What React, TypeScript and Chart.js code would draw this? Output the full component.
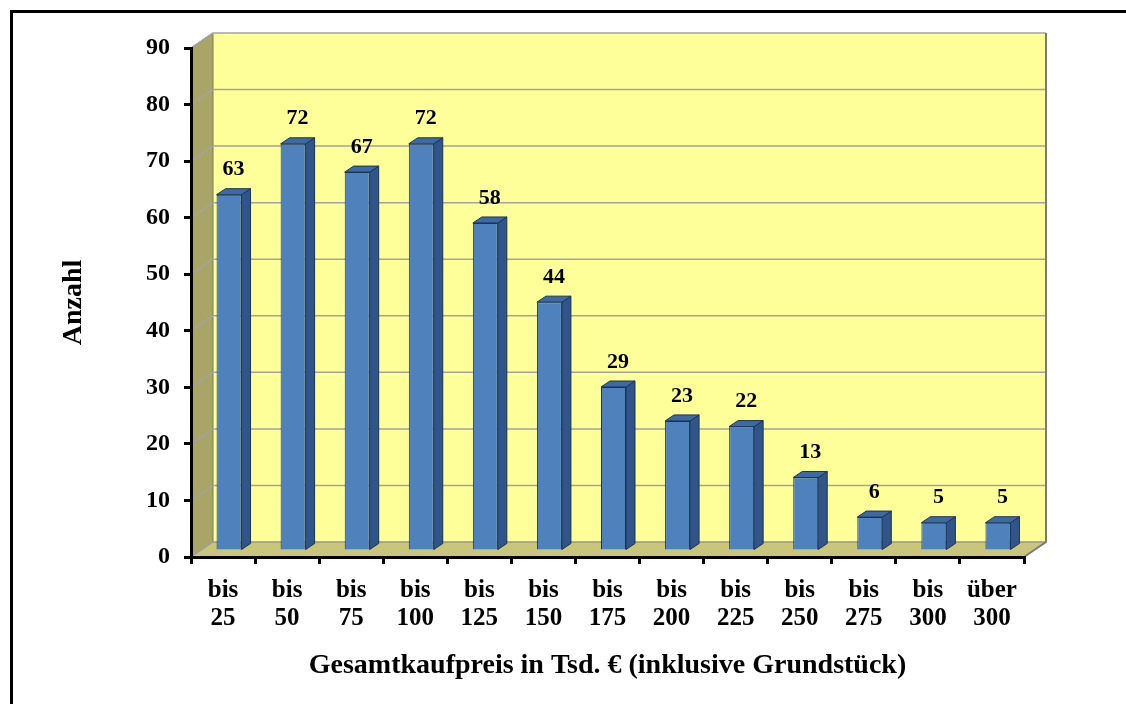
import React, { useEffect, useRef } from "react";
import { Chart, registerables } from "chart.js";

Chart.register(...registerables);

// ---- data ----
const categories: string[][] = [
  ["bis", "25"],
  ["bis", "50"],
  ["bis", "75"],
  ["bis", "100"],
  ["bis", "125"],
  ["bis", "150"],
  ["bis", "175"],
  ["bis", "200"],
  ["bis", "225"],
  ["bis", "250"],
  ["bis", "275"],
  ["bis", "300"],
  ["über", "300"],
];
const values: number[] = [63, 72, 67, 72, 58, 44, 29, 23, 22, 13, 6, 5, 5];
const yMin = 0;
const yMax = 90;
const yStep = 10;
const xTitle = "Gesamtkaufpreis in Tsd. € (inklusive Grundstück)";
const yTitle = "Anzahl";

// ---- styling ----
const FONT = "'Liberation Serif', 'Times New Roman', serif";
const WALL_DX = 22;
const WALL_DY = -15;
const BAR_DX = 6;
const BAR_DY = -6;
const BAR_DEPTH_X = 9;
const BAR_DEPTH_Y = -6;

const poly = (ctx: CanvasRenderingContext2D, pts: number[][], fill: string, stroke?: string, lw = 1) => {
  ctx.beginPath();
  ctx.moveTo(pts[0][0], pts[0][1]);
  for (let i = 1; i < pts.length; i++) ctx.lineTo(pts[i][0], pts[i][1]);
  ctx.closePath();
  ctx.fillStyle = fill;
  ctx.fill();
  if (stroke) {
    ctx.strokeStyle = stroke;
    ctx.lineWidth = lw;
    ctx.stroke();
  }
};

const threeDPlugin = {
  id: "threeD",
  beforeDraw(chart: any) {
    const { ctx, chartArea } = chart;
    const { left, right, top, bottom } = chartArea;
    const ys = chart.scales.y;
    ctx.save();
    // outer frame
    ctx.lineWidth = 3;
    ctx.strokeStyle = "#000";
    ctx.strokeRect(11.5, 11.5, 1400, 1000);

    // back wall
    poly(
      ctx,
      [
        [left + WALL_DX, top + WALL_DY],
        [right + WALL_DX, top + WALL_DY],
        [right + WALL_DX, bottom + WALL_DY],
        [left + WALL_DX, bottom + WALL_DY],
      ],
      "#FFFF99"
    );
    // side wall
    poly(
      ctx,
      [
        [left, top],
        [left + WALL_DX, top + WALL_DY],
        [left + WALL_DX, bottom + WALL_DY],
        [left, bottom],
      ],
      "#A8A567",
      "#7E7C50",
      1
    );
    // floor
    poly(
      ctx,
      [
        [left, bottom],
        [left + WALL_DX, bottom + WALL_DY],
        [right + WALL_DX, bottom + WALL_DY],
        [right, bottom],
      ],
      "#C9C57B",
      "#8E8B55",
      1
    );
    // grid lines
    ctx.strokeStyle = "#A3A3A3";
    ctx.lineWidth = 1.5;
    ys.ticks.forEach((t: any) => {
      const py = ys.getPixelForValue(t.value);
      ctx.beginPath();
      ctx.moveTo(left, py);
      ctx.lineTo(left + WALL_DX, py + WALL_DY);
      ctx.lineTo(right + WALL_DX, py + WALL_DY);
      ctx.stroke();
    });
    // right edge of back wall
    ctx.strokeStyle = "#7A7A7A";
    ctx.lineWidth = 2;
    ctx.beginPath();
    ctx.moveTo(right + WALL_DX, top + WALL_DY);
    ctx.lineTo(right + WALL_DX, bottom + WALL_DY);
    ctx.lineTo(right, bottom);
    ctx.stroke();
    ctx.restore();
  },
  beforeDatasetsDraw(chart: any) {
    chart.ctx.save();
    chart.ctx.translate(BAR_DX, BAR_DY);
  },
  afterDatasetsDraw(chart: any) {
    const { ctx } = chart;
    const meta = chart.getDatasetMeta(0);
    meta.data.forEach((el: any) => {
      const { x, y, base, width } = el.getProps(["x", "y", "base", "width"], true);
      const l = x - width / 2;
      const r = x + width / 2;
      poly(
        ctx,
        [
          [r, y],
          [r + BAR_DEPTH_X, y + BAR_DEPTH_Y],
          [r + BAR_DEPTH_X, base + BAR_DEPTH_Y],
          [r, base],
        ],
        "#30558A",
        "#1C3457",
        1
      );
      poly(
        ctx,
        [
          [l, y],
          [l + BAR_DEPTH_X, y + BAR_DEPTH_Y],
          [r + BAR_DEPTH_X, y + BAR_DEPTH_Y],
          [r, y],
        ],
        "#3D6AA4",
        "#1C3457",
        1
      );
    });
    ctx.restore();

    // value labels
    ctx.save();
    ctx.fillStyle = "#000";
    ctx.font = `bold 22px ${FONT}`;
    ctx.textAlign = "center";
    ctx.textBaseline = "middle";
    meta.data.forEach((el: any, i: number) => {
      const { x, y } = el.getProps(["x", "y"], true);
      ctx.fillText(String(values[i]), x + BAR_DX + BAR_DEPTH_X / 2, y + BAR_DY - 25);
    });
    ctx.restore();
  },
};

export default function App() {
  const ref = useRef<HTMLCanvasElement | null>(null);

  useEffect(() => {
    if (!ref.current) return;
    const chart = new Chart(ref.current, {
      type: "bar",
      data: {
        labels: categories,
        datasets: [
          {
            data: values,
            backgroundColor: "#4F81BD",
            borderColor: "#1C3457",
            borderWidth: 1,
            categoryPercentage: 1,
            barPercentage: 0.39,
          },
        ],
      },
      options: {
        responsive: false,
        animation: false,
        layout: { padding: { left: 10, top: 48, right: 102, bottom: 0 } },
        plugins: {
          legend: { display: false },
          tooltip: { enabled: false },
        },
        scales: {
          x: {
            grid: {
              offset: true,
              drawOnChartArea: false,
              drawTicks: true,
              tickLength: 7,
              color: "#000",
              lineWidth: 3,
            },
            border: { display: true, color: "#000", width: 3 },
            ticks: {
              color: "#000",
              font: { family: FONT, size: 25, weight: "bold", lineHeight: 1.1 },
              padding: 13,
              maxRotation: 0,
              autoSkip: false,
            },
            title: {
              display: true,
              text: xTitle,
              color: "#000",
              font: { family: FONT, size: 28, weight: "bold" },
              padding: { top: 0, bottom: 21 },
            },
            afterFit: (s: any) => {
              s.height = 147;
            },
          },
          y: {
            min: yMin,
            max: yMax,
            grid: {
              drawOnChartArea: false,
              drawTicks: true,
              tickLength: 7,
              color: "#000",
              lineWidth: 3,
            },
            border: { display: true, color: "#000", width: 3 },
            ticks: {
              stepSize: yStep,
              color: "#000",
              font: { family: FONT, size: 24, weight: "bold" },
              padding: 14,
            },
            title: {
              display: true,
              text: yTitle,
              color: "#000",
              font: { family: FONT, size: 28, weight: "bold" },
              padding: { top: 47, bottom: 0 },
            },
            afterFit: (s: any) => {
              s.width = 181;
            },
          },
        },
      },
      plugins: [threeDPlugin],
    } as any);
    return () => chart.destroy();
  }, []);

  return (
    <div style={{ position: "fixed", left: 0, top: 0, width: 1126, height: 704, background: "#fff" }}>
      <canvas ref={ref} width={1126} height={704} style={{ display: "block" }} />
    </div>
  );
}
